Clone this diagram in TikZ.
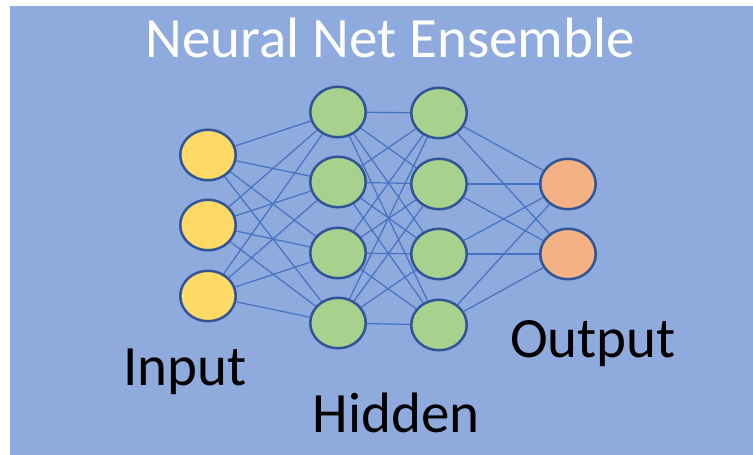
\documentclass[tikz,border=0pt]{standalone}
\usepackage{fontspec}
\setmainfont{Carlito}
\usepackage{xcolor}
\definecolor{mybg}{HTML}{8FAADC}
\definecolor{myedge}{HTML}{4472C4}
\definecolor{myrim}{HTML}{2F5597}
\definecolor{myyellow}{HTML}{FFD966}
\definecolor{mygreen}{HTML}{A9D18E}
\definecolor{myorange}{HTML}{F4B183}
\usetikzlibrary{shapes.geometric}
\tikzset{
  neuron/.style={ellipse, draw=myrim, line width=2.5pt, inner sep=0pt,
    minimum width=55.5pt, minimum height=50.5pt},
  link/.style={myedge, line width=1.2pt},
  caption/.style={anchor=base, font=\fontsize{57}{60}\selectfont}
}

\begin{document}
\begin{tikzpicture}[x=1pt,y=-1pt]
      \useasboundingbox (0,0) rectangle (753,455);
      \fill[mybg] (10,6) rectangle (753,455);
      \node[caption, text=white] (title) at (390,57) {Neural Net Ensemble};
      % layers
      \foreach \y [count=\i] in {155,225,296} \node[neuron, fill=myyellow] (in\i) at (208,\y) {};
      \foreach \y [count=\i] in {112,182,253,323} \node[neuron, fill=mygreen] (ha\i) at (338,\y) {};
      \foreach \y [count=\i] in {113,184,254,325} \node[neuron, fill=mygreen] (hb\i) at (439,\y) {};
      \foreach \y [count=\i] in {184,254} \node[neuron, fill=myorange] (out\i) at (568,\y) {};
      % connections
      \foreach \i in {1,...,3} \foreach \j in {1,...,4} \draw[link] (in\i) -- (ha\j);
      \foreach \i in {1,...,4} \foreach \j in {1,...,4} \draw[link] (ha\i) -- (hb\j);
      \foreach \i in {1,...,4} \foreach \j in {1,2} \draw[link] (hb\i) -- (out\j);
      \node[caption] (lin) at (185,385) {Input};
      \node[caption] (lhid) at (396,432) {Hidden};
      \node[caption] (lout) at (593,357) {Output};
    \end{tikzpicture}
\end{document}
